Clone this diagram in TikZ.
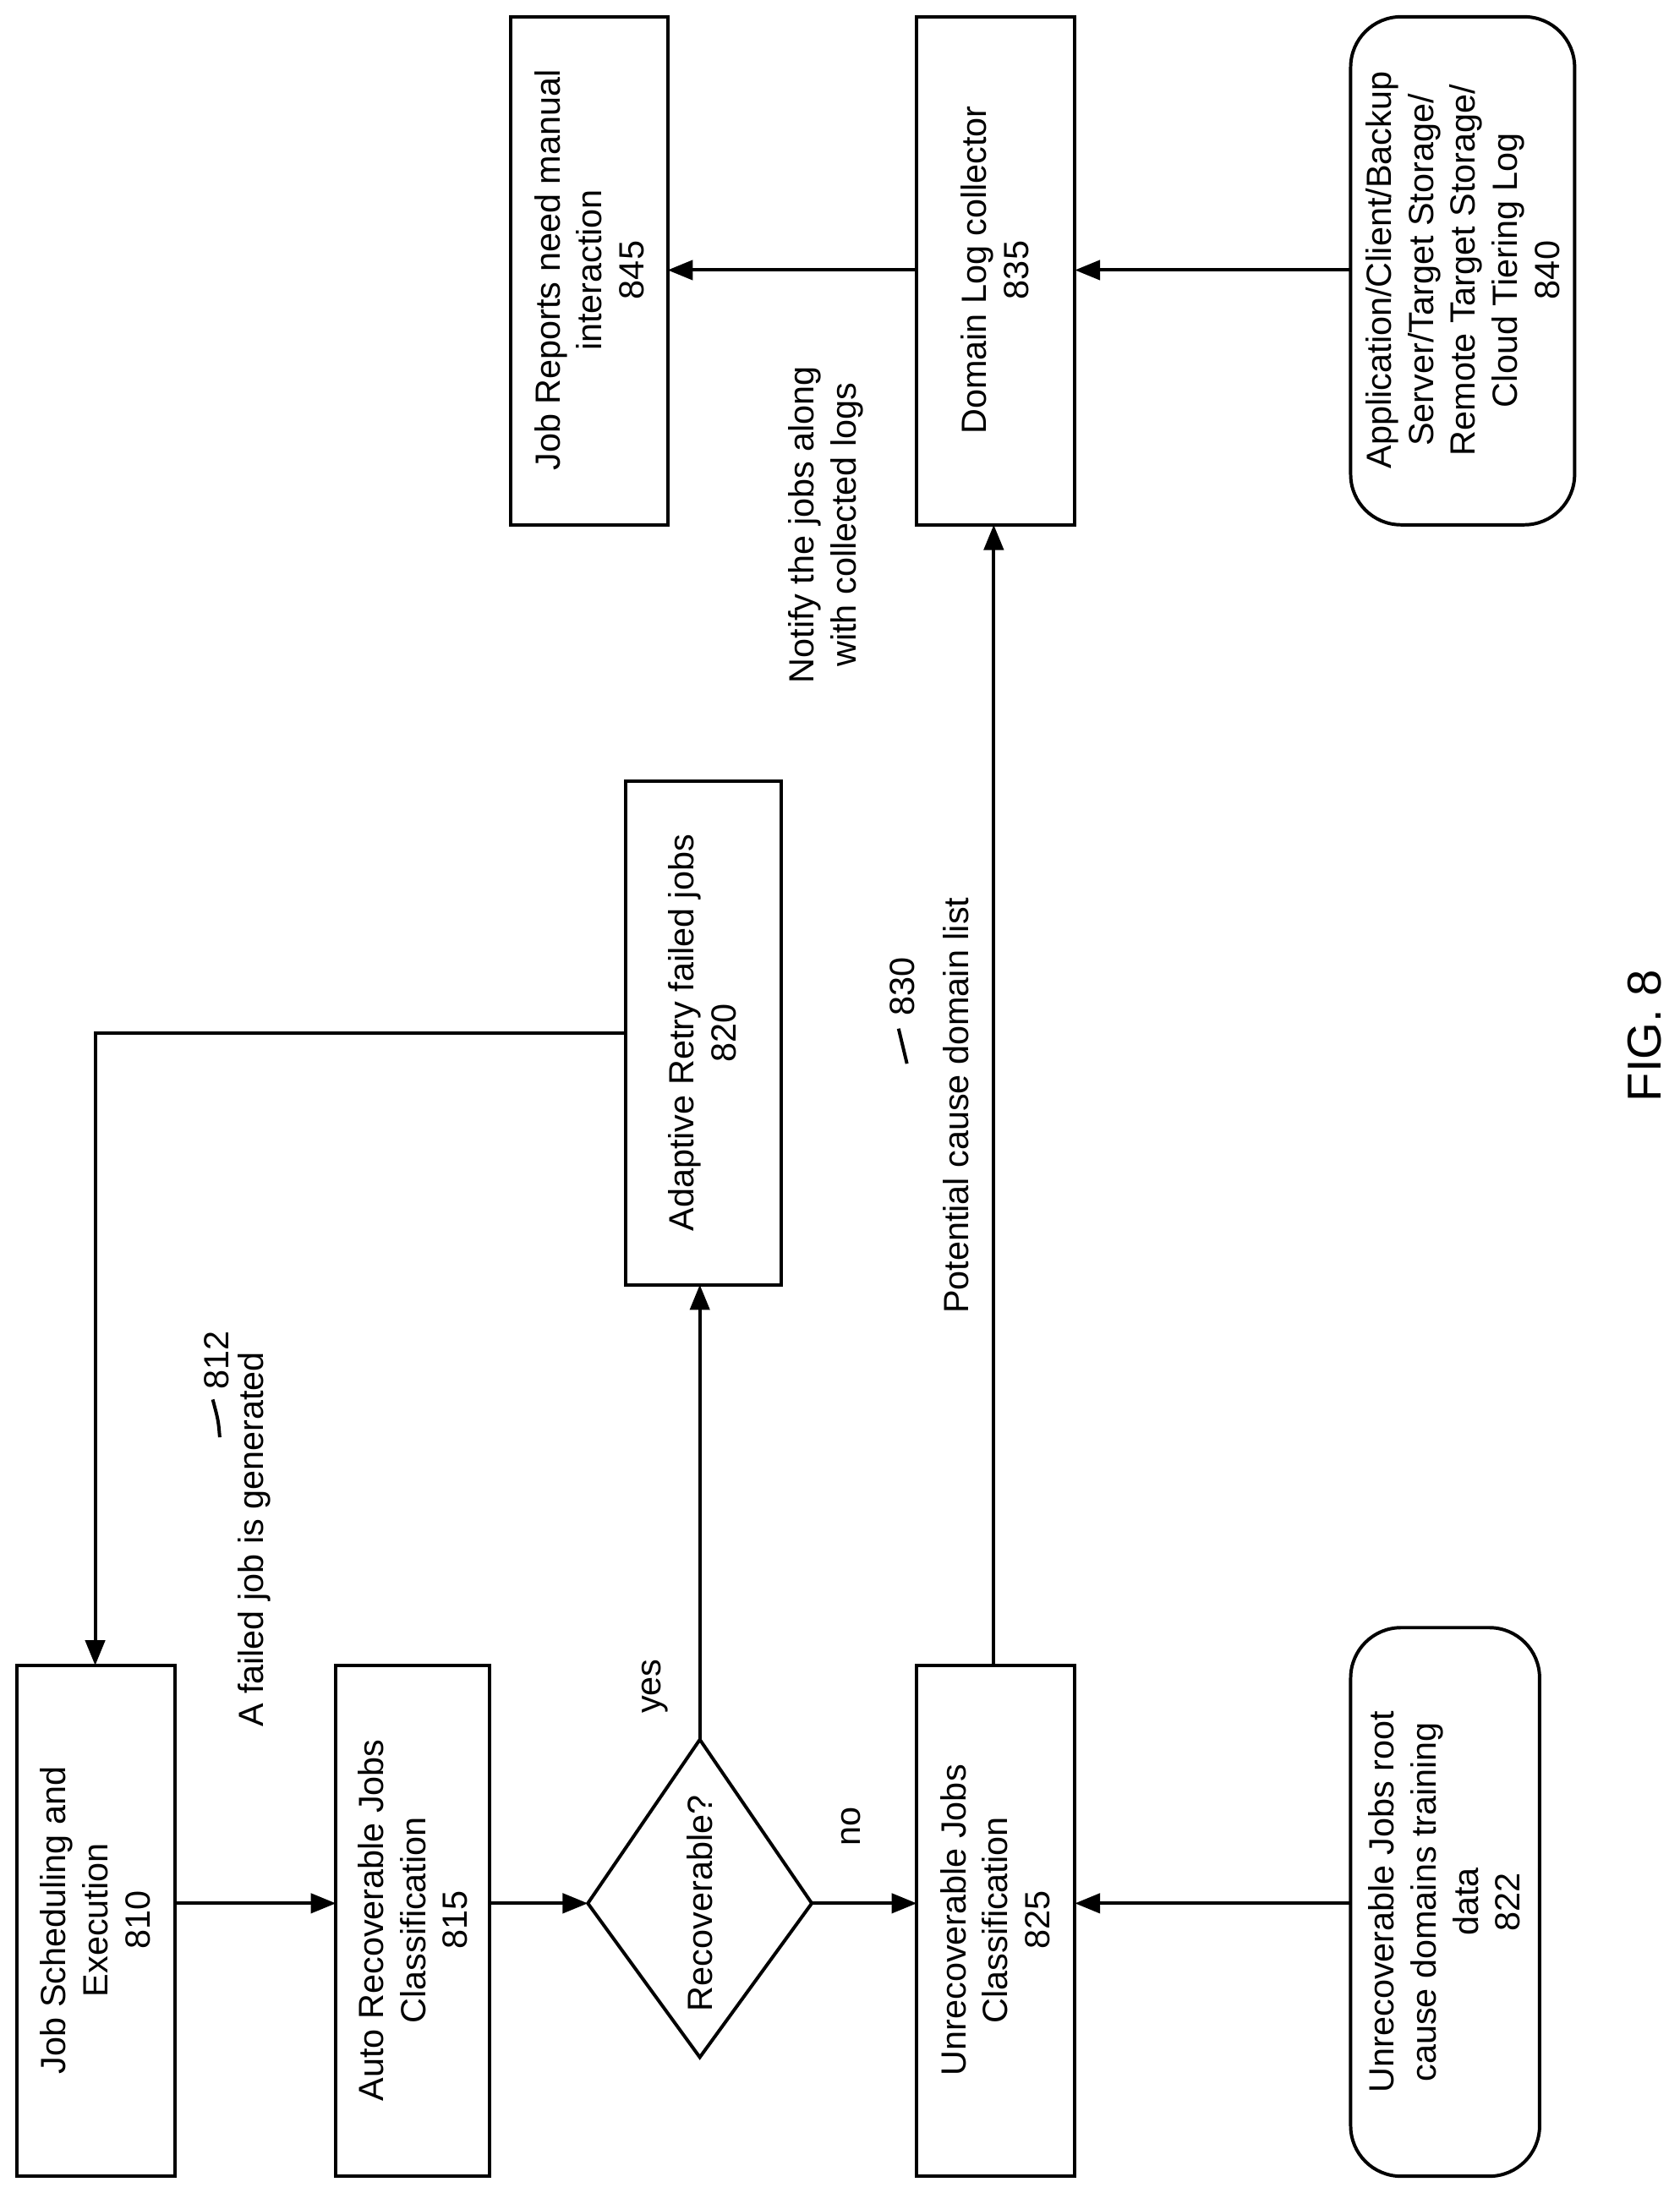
\documentclass[tikz,border=0pt]{standalone}
\usepackage{fontspec}
\setmainfont{Liberation Sans}
\usetikzlibrary{shapes.geometric,arrows.meta}
\begin{document}
\begin{tikzpicture}[x=0.5pt,y=-0.5pt,
  box/.style={draw,line width=1.2pt,inner sep=0pt},
  txt/.style={rotate=90,align=center,font=\fontsize{12.5}{15}\selectfont},
  arr/.style={line width=1.2pt,-{Triangle[length=9pt,width=7pt]}},
  ln/.style={line width=1.2pt}]
\useasboundingbox (0,0) rectangle (1200,1567);
% boxes
\draw[box] (12,1190) rectangle (125,1555);
\node[txt] (b810) at (68,1372) {Job Scheduling and\\Execution\\810};
\draw[box] (240,1190) rectangle (350,1555);
\node[txt] (b815) at (295,1372) {Auto Recoverable Jobs\\Classification\\815};
\draw[box] (500,1243) -- (580,1360) -- (500,1470) -- (420,1360) -- cycle;
\node[txt] (dia) at (500,1360) {Recoverable?};
\draw[box] (655,1190) rectangle (768,1555);
\node[txt] (b825) at (711,1372) {Unrecoverable Jobs\\Classification\\825};
\draw[box,rounded corners=18pt] (965,1163) rectangle (1100,1555);
\node[txt] (b822) at (1032,1359) {Unrecoverable Jobs root\\cause domains training\\data\\822};
\draw[box] (447,558) rectangle (558,918);
\node[txt] (b820) at (502,738) {Adaptive Retry failed jobs\\820};
\draw[box] (365,12) rectangle (477,375);
\node[txt] (b845) at (421,193) {Job Reports need manual\\interaction\\845};
\draw[box] (655,12) rectangle (768,375);
\node[txt] (b835) at (711,193) {Domain Log collector\\835};
\draw[box,rounded corners=18pt] (965,12) rectangle (1125,375);
\node[txt] (b840) at (1045,193) {Application/Client/Backup\\Server/Target Storage/\\Remote Target Storage/\\Cloud Tiering Log\\840};
% connectors
\coordinate (e810) at (125,1360); \coordinate (w815) at (240,1360);
\draw[arr] (e810) -- (w815);
\coordinate (e815) at (350,1360); \coordinate (wd) at (420,1360);
\draw[arr] (e815) -- (wd);
\coordinate (ed) at (580,1360); \coordinate (w825) at (655,1360);
\draw[arr] (ed) -- (w825);
\coordinate (td) at (500,1243); \coordinate (b820s) at (500,918);
\draw[arr] (td) -- (b820s);
\coordinate (w820) at (447,738); \coordinate (t810) at (68,1190);
\draw[arr] (w820) -- (68,738) -- (t810);
\coordinate (t825) at (710,1190); \coordinate (b835s) at (710,375);
\draw[arr] (t825) -- (b835s);
\coordinate (w835) at (655,193); \coordinate (e845) at (477,193);
\draw[arr] (w835) -- (e845);
\coordinate (w840) at (965,193); \coordinate (e835) at (768,193);
\draw[arr] (w840) -- (e835);
\coordinate (w822) at (965,1360); \coordinate (e825) at (768,1360);
\draw[arr] (w822) -- (e825);
% labels
\node[txt] (lno) at (608,1305) {no};
\node[txt] (lyes) at (468,1205) {yes};
\node[txt] (lfail) at (182,1100) {A failed job is generated};
\node[txt] (l812) at (155,972) {812};
\draw[ln] (157,1027) .. controls (156,1015) .. (152,1000);
\node[txt] (lpot) at (683,790) {Potential cause domain list};
\node[txt] (l830) at (645,705) {830};
\draw[ln] (648,760) .. controls (645,748) .. (642,735);
\node[txt] (lnot) at (590,375) {Notify the jobs along\\with collected logs};
\node[rotate=90,font=\fontsize{17}{20}\selectfont] (fig) at (1175,740) {FIG. 8};
\end{tikzpicture}
\end{document}
